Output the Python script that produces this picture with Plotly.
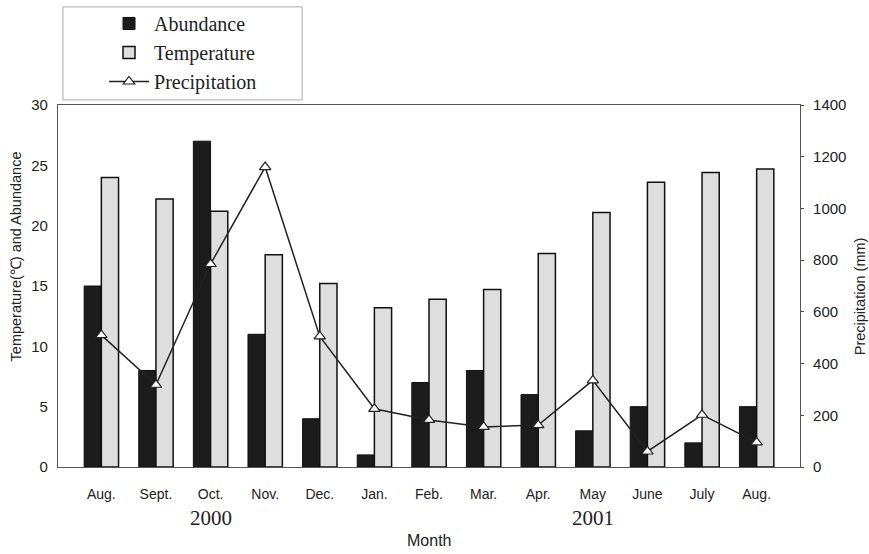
import plotly.graph_objects as go

months = ["Aug.", "Sept.", "Oct.", "Nov.", "Dec.", "Jan.", "Feb.", "Mar.", "Apr.", "May", "June", "July", "Aug."]
month_ids = ["Aug00", "Sep00", "Oct00", "Nov00", "Dec00", "Jan01", "Feb01", "Mar01", "Apr01", "May01", "Jun01", "Jul01", "Aug01"]
abundance = [15, 8, 27, 11, 4, 1, 7, 8, 6, 3, 5, 2, 5]
temperature = [24.0, 22.2, 21.2, 17.6, 15.2, 13.2, 13.9, 14.7, 17.7, 21.1, 23.6, 24.4, 24.7]
precipitation = [510, 318, 785, 1160, 505, 225, 182, 155, 162, 335, 60, 202, 95]
left_ticks = [0, 5, 10, 15, 20, 25, 30]
right_ticks = [0, 200, 400, 600, 800, 1000, 1200, 1400]
years = [("Oct00", "2000"), ("May01", "2001")]

fig = go.Figure()
fig.add_trace(go.Bar(x=month_ids, y=abundance, name="Abundance",
                     marker=dict(color="#1c1c1c", line=dict(color="#111", width=1))))
fig.add_trace(go.Bar(x=month_ids, y=temperature, name="Temperature",
                     marker=dict(color="#dedede", line=dict(color="#111", width=1.5))))
fig.add_trace(go.Scatter(x=month_ids, y=precipitation, name="Precipitation", yaxis="y2",
                         mode="lines+markers",
                         line=dict(color="#222", width=1.5),
                         marker=dict(symbol="triangle-up", size=10, color="white",
                                     line=dict(color="#222", width=1.2))))

axis_font = dict(family="Liberation Sans, Arial", size=15, color="#222")
title_font = dict(family="Liberation Sans, Arial", size=14.5, color="#222")

fig.update_layout(
    width=869, height=554,
    margin=dict(l=58, r=69, t=105, b=87, autoexpand=False),
    paper_bgcolor="white", plot_bgcolor="white",
    barmode="group", bargap=0.37, bargroupgap=0.0,
    showlegend=True,
    legend=dict(x=0.062, y=1.279, xanchor="left", yanchor="top",
                borderwidth=0, bgcolor="rgba(0,0,0,0)",
                font=dict(family="Liberation Serif, Times New Roman", size=20, color="#222"),
                tracegroupgap=0, itemwidth=40),
    xaxis=dict(type="category", tickmode="array", tickvals=month_ids, ticktext=months,
               tickfont=dict(family="Liberation Sans, Arial", size=14, color="#222"),
               showline=True, linecolor="#555", linewidth=1.2,
               mirror=True, ticks="", showgrid=False, automargin=False,
               ticklabelstandoff=14),
    yaxis=dict(range=[0, 30], tickvals=left_ticks, tickfont=axis_font,
               showline=True, linecolor="#555", linewidth=1.2, ticks="", ticklabelstandoff=6,
               showgrid=False, zeroline=False, automargin=False),
    yaxis2=dict(range=[0, 1400], tickvals=right_ticks, overlaying="y", side="right",
                tickfont=axis_font, showline=True, linecolor="#555", linewidth=1.2,
                ticks="outside", ticklen=3, ticklabelstandoff=6, showgrid=False, zeroline=False,
                automargin=False),
    shapes=[dict(type="rect", xref="paper", yref="paper", x0=0.0067, x1=0.329, y0=1.014, y1=1.271,
                 line=dict(color="#aaa", width=1), fillcolor="rgba(0,0,0,0)")],
)

fig.add_annotation(x=-0.056, y=0.583, xref="paper", yref="paper", text="Temperature(℃) and Abundance",
                   textangle=-90, showarrow=False, font=title_font, xanchor="center", yanchor="middle")
fig.add_annotation(x=1.081, y=0.472, xref="paper", yref="paper", text="Precipitation (mm)",
                   textangle=-90, showarrow=False, font=title_font, xanchor="center", yanchor="middle")
fig.add_annotation(x=0.5, y=-0.204, xref="paper", yref="paper", text="Month",
                   showarrow=False, font=dict(family="Liberation Sans, Arial", size=16, color="#222"),
                   xanchor="center", yanchor="middle")
for xid, label in years:
    fig.add_annotation(x=xid, y=-0.141, xref="x", yref="paper", text=label, showarrow=False,
                       font=dict(family="Liberation Serif, Times New Roman", size=21, color="#222"),
                       xanchor="center", yanchor="middle")

fig.write_html("out.html", config={"displayModeBar": False},
               post_script="document.body.style.margin='0';document.body.style.padding='0';")
